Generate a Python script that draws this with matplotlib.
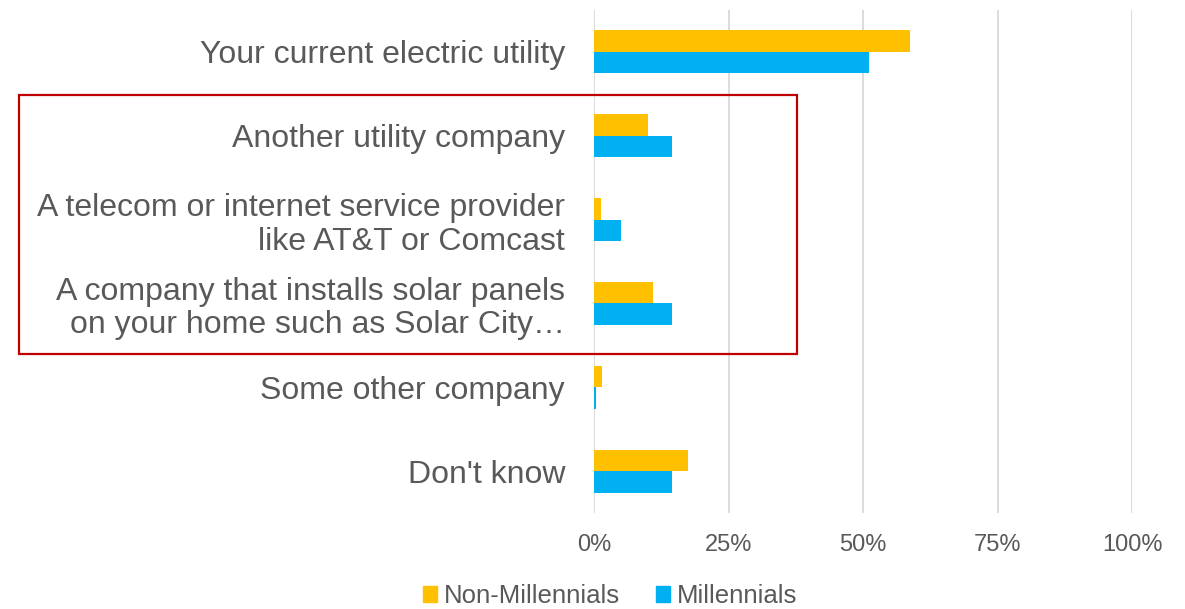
import matplotlib
matplotlib.use('Agg')
import numpy as np
from matplotlib import pyplot as plt
from matplotlib.patches import Rectangle, Patch

plt.rcParams['font.family'] = ['Liberation Sans', 'DejaVu Sans']

# === Données ===
categories = [
    "Your current electric utility",
    "Another utility company",
    "A telecom or internet service provider\nlike AT&T or Comcast",
    "A company that installs solar panels\non your home such as Solar City\u2026",
    "Some other company",
    "Don't know",
]
non_millennials = [58.7, 10.0, 1.2, 11.0, 1.4, 17.4]
millennials = [51.0, 14.4, 5.0, 14.5, 0.3, 14.5]
series_names = ["Non-Millennials", "Millennials"]
x_ticks = [0, 25, 50, 75, 100]

yellow = '#FFC000'
blue = '#00B0F0'
grey_txt = '#595959'
grid_col = '#D9D9D9'

fig = plt.figure(figsize=(11.85, 6.09), dpi=100, facecolor='white')
ax = fig.add_axes([0.5015, 0.1576, 0.454, 0.826])

y = np.arange(len(categories))
h = 0.257
ax.barh(y - h / 2, non_millennials, height=h, color=yellow, zorder=3)
ax.barh(y + h / 2, millennials, height=h, color=blue, zorder=3)

ax.set_xlim(0, 100)
ax.set_ylim(len(categories) - 0.5, -0.5)
ax.set_xticks(x_ticks)
ax.set_xticklabels([f"{t}%" for t in x_ticks], fontsize=17, color=grey_txt)
ax.set_yticks(y)
ax.set_yticklabels(categories, fontsize=23, color=grey_txt, linespacing=1.15)
ax.tick_params(axis='both', length=0)
ax.tick_params(axis='y', pad=21)
ax.tick_params(axis='x', pad=15)
ax.grid(axis='x', color=grid_col, linewidth=1.3, zorder=0)
for s in ax.spines.values():
    s.set_visible(False)

# cadre rouge autour des fournisseurs alternatifs
fig.patches.append(Rectangle((19 / 1185, 1 - 354 / 609), (797 - 19) / 1185, (354 - 95) / 609,
                             transform=fig.transFigure, fill=False,
                             edgecolor='#C00000', linewidth=1.6, zorder=5))

handles = [Patch(color=yellow), Patch(color=blue)]
leg = fig.legend(handles, series_names, loc='center', bbox_to_anchor=(610 / 1185, 1 - 596 / 609),
                 ncol=2, frameon=False, fontsize=18.5, handlelength=0.55, handleheight=0.55,
                 handletextpad=0.25, columnspacing=1.4, labelcolor=grey_txt)

fig.savefig('out.png', dpi=100, facecolor='white')
